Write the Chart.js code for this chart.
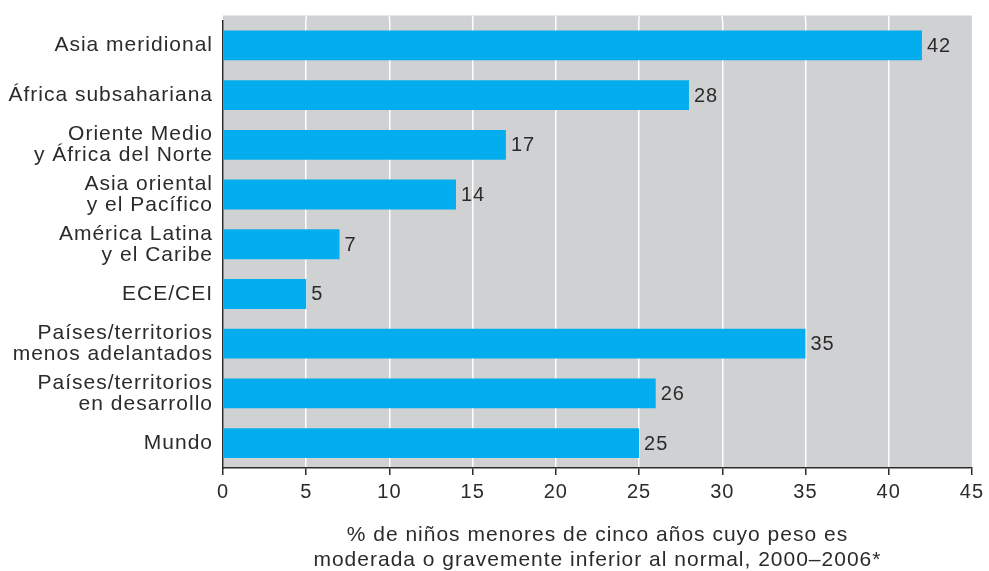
<!DOCTYPE html>
<html lang="es">
<head>
<meta charset="utf-8">
<title>Peso inferior al normal</title>
<script src="https://cdn.jsdelivr.net/npm/chart.js@4/dist/chart.umd.min.js"></script>
<style>
  html, body { margin: 0; padding: 0; background: #ffffff; }
  canvas { display: block; }
</style>
</head>
<body>
<canvas id="pesoChart" width="989" height="571"></canvas>
<script>
// Regiones (etiquetas de dos líneas como arrays)
const regiones = [
  ['Asia meridional'],
  ['África subsahariana'],
  ['Oriente Medio', 'y África del Norte'],
  ['Asia oriental', 'y el Pacífico'],
  ['América Latina', 'y el Caribe'],
  ['ECE/CEI'],
  ['Países/territorios', 'menos adelantados'],
  ['Países/territorios', 'en desarrollo'],
  ['Mundo']
];

// % de niños con peso inferior al normal
const porcentajes = [42, 28, 17, 14, 7, 5, 35, 26, 25];

// Eje X
const ejeMin = 0;
const ejeMax = 45;
const ejePaso = 5;

const tituloEje = [
  '% de niños menores de cinco años cuyo peso es',
  'moderada o gravemente inferior al normal, 2000–2006*'
];

const AZUL = '#04adee';
const GRIS = '#d0d1d3';
const TEXTO = '#2b2b2b';
const FUENTE = "'Liberation Sans', Arial, Helvetica, sans-serif";

// Espaciado de letras algo abierto
const espaciado = {
  id: 'espaciado',
  beforeLayout(chart) { chart.ctx.letterSpacing = '1px'; },
  beforeDraw(chart) { chart.ctx.letterSpacing = '1px'; }
};

// Fondo gris del área del gráfico (sobresale un poco por arriba)
const fondo = {
  id: 'fondo',
  beforeDraw(chart) {
    const { ctx, chartArea } = chart;
    const x = chart.scales.x;
    const extra = 5;
    ctx.save();
    ctx.fillStyle = GRIS;
    ctx.fillRect(chartArea.left, chartArea.top - extra,
      chartArea.right - chartArea.left, chartArea.bottom - chartArea.top + extra);
    // prolongar las líneas blancas hasta el borde superior del fondo
    ctx.strokeStyle = '#ffffff';
    ctx.lineWidth = 1.5;
    x.ticks.forEach(t => {
      if (t.value <= ejeMin || t.value >= ejeMax) return;
      const px = x.getPixelForValue(t.value);
      ctx.beginPath();
      ctx.moveTo(px, chartArea.top - extra);
      ctx.lineTo(px, chartArea.top);
      ctx.stroke();
    });
    ctx.restore();
  }
};

// Valor al final de cada barra
const valores = {
  id: 'valores',
  afterDatasetsDraw(chart) {
    const ctx = chart.ctx;
    const meta = chart.getDatasetMeta(0);
    ctx.save();
    ctx.font = '20px ' + FUENTE;
    ctx.fillStyle = TEXTO;
    ctx.textAlign = 'left';
    ctx.textBaseline = 'middle';
    meta.data.forEach((bar, i) => {
      ctx.fillText(String(chart.data.datasets[0].data[i]), bar.x + 5, bar.y + 1);
    });
    ctx.restore();
  }
};

const ctx = document.getElementById('pesoChart').getContext('2d');
new Chart(ctx, {
  type: 'bar',
  data: {
    labels: regiones,
    datasets: [{
      data: porcentajes,
      backgroundColor: AZUL,
      borderWidth: 0,
      barPercentage: 0.6,
      categoryPercentage: 1
    }]
  },
  options: {
    indexAxis: 'y',
    responsive: false,
    animation: false,
    devicePixelRatio: 1,
    layout: { padding: { top: 18, right: 14, bottom: 0, left: 0 } },
    plugins: {
      legend: { display: false },
      tooltip: { enabled: false }
    },
    scales: {
      x: {
        position: 'bottom',
        min: ejeMin,
        max: ejeMax,
        ticks: {
          stepSize: ejePaso,
          color: TEXTO,
          padding: 5,
          font: { family: FUENTE, size: 20 }
        },
        grid: {
          color: c => (c.tick && c.tick.value >= ejeMax) ? 'rgba(0,0,0,0)' : '#ffffff',
          lineWidth: 1.5,
          tickLength: 7,
          tickColor: TEXTO,
          tickWidth: 1.5
        },
        border: { color: TEXTO, width: 1.5 },
        title: {
          display: true,
          text: tituloEje,
          color: TEXTO,
          font: { family: FUENTE, size: 21, lineHeight: 1.2 },
          padding: { top: 0, bottom: -2 }
        },
        afterFit(scale) { scale.height = 103; }
      },
      y: {
        ticks: {
          color: TEXTO,
          padding: 10,
          font: { family: FUENTE, size: 21, lineHeight: 1.0 }
        },
        grid: { display: false, drawTicks: false },
        border: { display: true, color: TEXTO, width: 1.5 },
        afterFit(scale) { scale.width = 223; }
      }
    }
  },
  plugins: [espaciado, fondo, valores]
});
</script>
</body>
</html>
